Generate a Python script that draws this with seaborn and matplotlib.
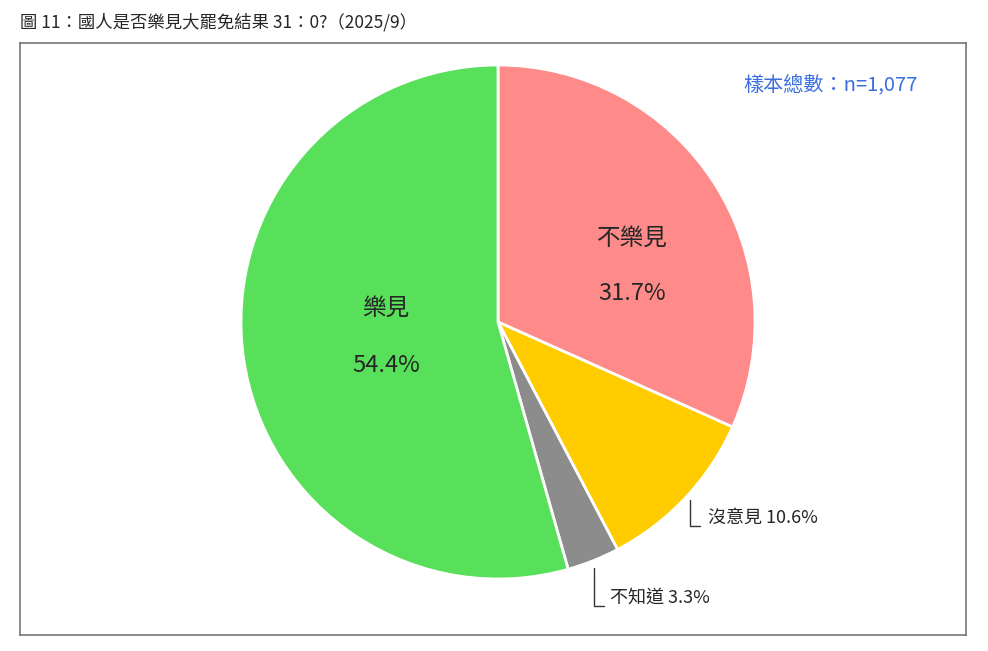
import matplotlib
matplotlib.use("Agg")
import matplotlib.pyplot as plt
import seaborn as sns

sns.set_style("white")
plt.rcParams['font.family'] = ['Noto Sans CJK TC', 'DejaVu Sans']

categories = ["不樂見", "沒意見", "不知道", "樂見"]
values = [31.7, 10.6, 3.3, 54.4]
colors = ["#FF8A8A", "#FFCC00", "#8C8C8C", "#58E05A"]

fig = plt.figure(figsize=(9.88, 6.51), dpi=100)
fig.text(20/988, 1-22/651, "圖 11：國人是否樂見大罷免結果 31：0?（2025/9）", fontsize=12.5, va="center", ha="left")
ax = fig.add_axes([20/988, 16/651, 946/988, 592/651])
W, H = 946, 592
cx, cy, r = 478, 635-16-322+16, 257
cy = 592 - (322 - 43)
ax.pie(values, colors=colors, startangle=90, counterclock=False, center=(cx, cy), radius=r,
       wedgeprops=dict(edgecolor="white", linewidth=2), frame=True)
ax.set_xlim(0, W); ax.set_ylim(0, H)
ax.set_xticks([]); ax.set_yticks([])
for s in ax.spines.values():
    s.set_color("#777777"); s.set_linewidth(1.2)

def Y(y): return 592 - (y - 43)
def X(x): return x - 20

ax.text(X(632), Y(238), categories[0], fontsize=17, ha="center", va="center")
ax.text(X(632), Y(293), f"{values[0]}%", fontsize=17, ha="center", va="center")
ax.text(X(386), Y(308), categories[3], fontsize=17, ha="center", va="center")
ax.text(X(386), Y(365), f"{values[3]}%", fontsize=17, ha="center", va="center")

ax.plot([X(690), X(690), X(700)], [Y(500), Y(526), Y(526)], color="#333333", lw=1)
ax.text(X(708), Y(518), f"{categories[1]} {values[1]}%", fontsize=13, ha="left", va="center")
ax.plot([X(594), X(594), X(604)], [Y(568), Y(606), Y(606)], color="#333333", lw=1)
ax.text(X(610), Y(598), f"{categories[2]} {values[2]}%", fontsize=13, ha="left", va="center")

ax.text(X(918), Y(85), "樣本總數：n=1,077", fontsize=14.5, color="#3B6FE0", ha="right", va="center")

fig.savefig("out.png", dpi=100)
